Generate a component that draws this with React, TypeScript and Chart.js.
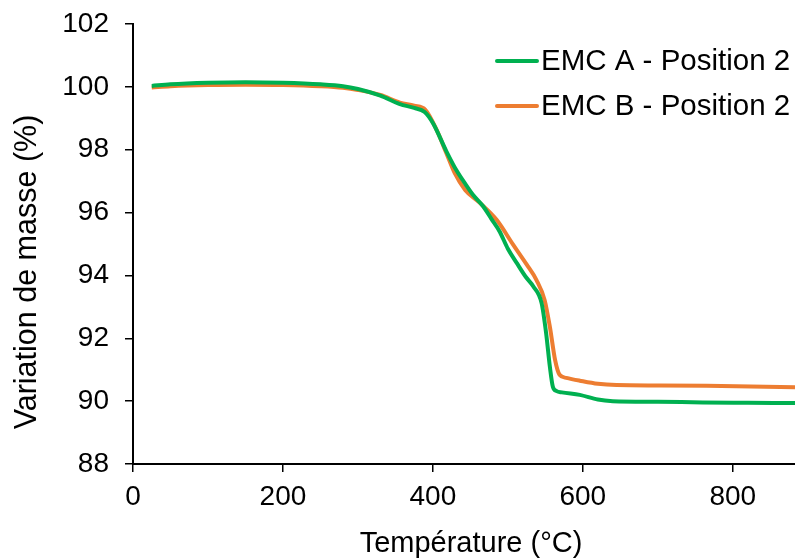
import React, { useEffect, useRef } from "react";
import { Chart, registerables } from "chart.js";

Chart.register(...registerables);

// ---- Data ----
const tempA = [25, 50, 100, 150, 200, 250, 280, 300, 330, 356, 375, 389, 400, 418, 431, 445, 454, 467, 478, 489, 500, 512, 524, 534, 545, 551, 556, 560, 565, 572, 596, 620, 640, 700, 760, 820, 883];
const massA = [100.03, 100.08, 100.13, 100.15, 100.13, 100.08, 100.02, 99.93, 99.72, 99.45, 99.33, 99.2, 98.85, 97.95, 97.36, 96.85, 96.55, 96.2, 95.8, 95.4, 94.85, 94.39, 93.95, 93.65, 93.12, 92.17, 91.1, 90.46, 90.32, 90.28, 90.2, 90.05, 90.0, 89.98, 89.96, 89.95, 89.94];

const tempB = [25, 50, 100, 150, 200, 250, 280, 300, 330, 356, 375, 390, 405, 418, 429, 443, 463, 485, 507, 525, 538, 549, 556, 563, 569, 578, 596, 620, 645, 700, 765, 883];
const massB = [99.98, 100.02, 100.06, 100.07, 100.06, 100.02, 99.97, 99.9, 99.74, 99.5, 99.4, 99.27, 98.63, 97.89, 97.26, 96.72, 96.3, 95.77, 94.98, 94.35, 93.86, 93.22, 92.37, 91.31, 90.84, 90.74, 90.65, 90.55, 90.51, 90.5, 90.49, 90.44];

const seriesNames = ["EMC A - Position 2", "EMC B - Position 2"];
const seriesColors = ["#00B050", "#ED7D31"];
const xTitle = "Température (°C)";
const yTitle = "Variation de masse (%)";
const xMin = 0;
const xMax = 883;
const xStep = 200;
const yMin = 88;
const yMax = 102;
const yStep = 2;

const FONT = '"Liberation Sans", Arial, Helvetica, sans-serif';

const overlayPlugin = {
  id: "overlay",
  afterDraw(chart: any) {
    const { ctx, chartArea } = chart;
    ctx.save();
    ctx.fillStyle = "#000";
    ctx.font = `29px ${FONT}`;
    ctx.textAlign = "center";
    ctx.textBaseline = "middle";
    ctx.fillText(xTitle, chartArea.left + 338, chartArea.bottom + 80);
    ctx.save();
    ctx.font = `30.5px ${FONT}`;
    ctx.translate(chartArea.left - 105, chartArea.top + 248);
    ctx.rotate(-Math.PI / 2);
    ctx.fillText(yTitle, 0, 0);
    ctx.restore();

    // legend
    chart.data.datasets.forEach((ds: any, i: number) => {
      const y = chartArea.top + 37 + i * 45;
      const x0 = chartArea.right - 298;
      ctx.strokeStyle = ds.borderColor;
      ctx.lineWidth = 4;
      ctx.lineCap = "round";
      ctx.beginPath();
      ctx.moveTo(x0, y);
      ctx.lineTo(x0 + 40, y);
      ctx.stroke();
      ctx.fillStyle = "#000";
      ctx.textAlign = "left";
      ctx.textBaseline = "middle";
      ctx.font = `29.5px ${FONT}`;
      ctx.fillText(ds.label, x0 + 44, y + 1);
    });
    ctx.restore();
  },
};

export default function App() {
  const canvasRef = useRef<HTMLCanvasElement | null>(null);

  useEffect(() => {
    if (!canvasRef.current) return;
    const ptsA = tempA.map((t, i) => ({ x: t, y: massA[i] }));
    const ptsB = tempB.map((t, i) => ({ x: t, y: massB[i] }));
    const chart = new Chart(canvasRef.current, {
      type: "line",
      data: {
        datasets: [
          {
            label: seriesNames[0],
            data: ptsA,
            borderColor: seriesColors[0],
            backgroundColor: seriesColors[0],
            borderWidth: 4,
            pointRadius: 0,
            cubicInterpolationMode: "monotone",
            fill: false,
          },
          {
            label: seriesNames[1],
            data: ptsB,
            borderColor: seriesColors[1],
            backgroundColor: seriesColors[1],
            borderWidth: 4,
            pointRadius: 0,
            cubicInterpolationMode: "monotone",
            fill: false,
          },
        ],
      },
      options: {
        animation: false,
        responsive: false,
        maintainAspectRatio: false,
        devicePixelRatio: 1,
        layout: { padding: { top: 24, right: 0, left: 0, bottom: 0 } },
        plugins: {
          legend: { display: false },
          tooltip: { enabled: false },
          title: { display: false },
        },
        scales: {
          x: {
            type: "linear",
            min: xMin,
            max: xMax,
            grid: {
              drawOnChartArea: false,
              drawTicks: true,
              tickLength: 8,
              color: "#000",
              lineWidth: 1.5,
            },
            border: { display: true, color: "#000", width: 2 },
            ticks: {
              stepSize: xStep,
              includeBounds: false,
              color: "#000",
              font: { family: FONT, size: 28 },
              padding: 8,
              maxRotation: 0,
            },
            afterFit(scale: any) {
              scale.height = 94;
              scale.paddingRight = 0;
              scale.paddingLeft = 0;
            },
          },
          y: {
            type: "linear",
            min: yMin,
            max: yMax,
            grid: {
              drawOnChartArea: false,
              drawTicks: true,
              tickLength: 8,
              color: "#000",
              lineWidth: 1.5,
            },
            border: { display: true, color: "#000", width: 2 },
            ticks: {
              stepSize: yStep,
              color: "#000",
              font: { family: FONT, size: 28 },
              padding: 16,
            },
            afterFit(scale: any) {
              scale.width = 133;
              scale.paddingTop = 0;
              scale.paddingBottom = 0;
            },
          },
        },
      },
      plugins: [overlayPlugin],
    });
    return () => chart.destroy();
  }, []);

  return (
    <div style={{ position: "fixed", left: 0, top: 0, width: 795, height: 558, background: "#fff" }}>
      <canvas ref={canvasRef} width={795} height={558} style={{ width: 795, height: 558, display: "block" }} />
    </div>
  );
}
